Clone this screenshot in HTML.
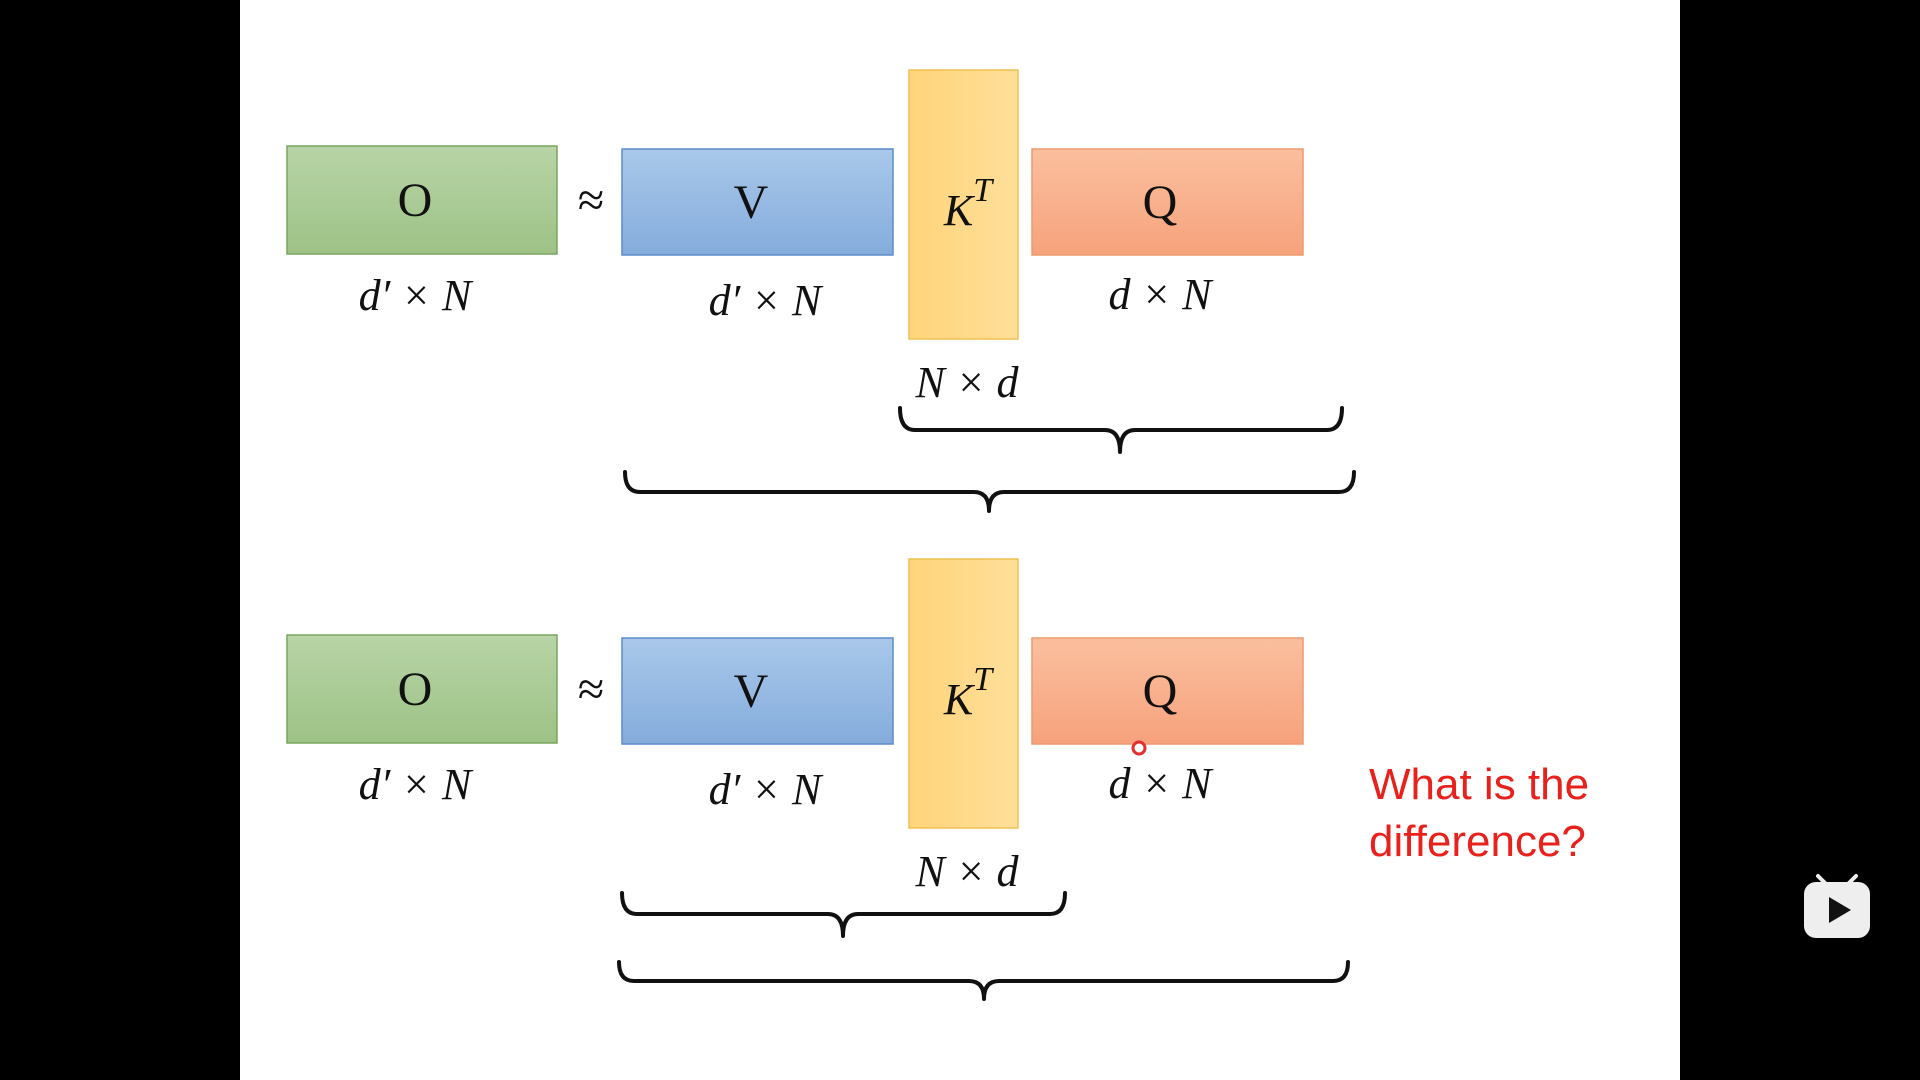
<!DOCTYPE html>
<html><head><meta charset="utf-8"><style>
html,body{margin:0;padding:0;width:1920px;height:1080px;background:#000;overflow:hidden}
svg{display:block}
.lbl{font-family:"Liberation Serif",serif;font-size:48px;fill:#111}
.it{font-family:"Liberation Serif",serif;font-style:italic;font-size:44px;fill:#111}
.br{fill:none;stroke:#111;stroke-width:4;stroke-linecap:round;stroke-linejoin:round}
</style></head><body>
<svg width="1920" height="1080" viewBox="0 0 1920 1080">
<defs>
<linearGradient id="gG" x1="0" y1="0" x2="0" y2="1"><stop offset="0" stop-color="#b7d4a6"/><stop offset="1" stop-color="#9dc286"/></linearGradient>
<linearGradient id="gB" x1="0" y1="0" x2="0" y2="1"><stop offset="0" stop-color="#a9c8ea"/><stop offset="1" stop-color="#84acdc"/></linearGradient>
<linearGradient id="gY" x1="0" y1="0" x2="1" y2="0"><stop offset="0" stop-color="#ffd47a"/><stop offset="1" stop-color="#ffdf9a"/></linearGradient>
<linearGradient id="gO" x1="0" y1="0" x2="0" y2="1"><stop offset="0" stop-color="#fbbf9e"/><stop offset="1" stop-color="#f6a27c"/></linearGradient>
</defs>
<rect x="240" y="0" width="1440" height="1080" fill="#fff"/>

<g>
<rect x="287" y="146" width="270" height="108" fill="url(#gG)" stroke="#7aa55f" stroke-width="1.5"/>
<text x="415" y="216" class="lbl" text-anchor="middle">O</text>
<text x="591" y="216" class="lbl" font-size="56" text-anchor="middle">≈</text>
<rect x="622" y="149" width="271" height="106" fill="url(#gB)" stroke="#5b8ccb" stroke-width="1.5"/>
<text x="751" y="218" class="lbl" text-anchor="middle">V</text>
<rect x="909" y="70" width="109" height="269" fill="url(#gY)" stroke="#f0c050" stroke-width="1.5"/>
<text x="968" y="225" class="it" font-size="48" text-anchor="middle">K<tspan dy="-24" font-size="34">T</tspan></text>
<rect x="1032" y="149" width="271" height="106" fill="url(#gO)" stroke="#ee9a6e" stroke-width="1.5"/>
<text x="1160" y="218" class="lbl" text-anchor="middle">Q</text>
<text x="415" y="310" class="it" text-anchor="middle">d′ × N</text>
<text x="765" y="315" class="it" text-anchor="middle">d′ × N</text>
<text x="1160" y="309" class="it" text-anchor="middle">d × N</text>
<text x="967" y="397" class="it" text-anchor="middle">N × d</text>
<path class="br" d="M900 408 Q900 430 915 430 L1105 430 Q1120 430 1120 452 Q1120 430 1135 430 L1327 430 Q1342 430 1342 408"/>
<path class="br" d="M625 472 Q625 492 640 492 L974 492 Q989 492 989 511 Q989 492 1004 492 L1339 492 Q1354 492 1354 472"/>
</g>

<g>
<rect x="287" y="635" width="270" height="108" fill="url(#gG)" stroke="#7aa55f" stroke-width="1.5"/>
<text x="415" y="705" class="lbl" text-anchor="middle">O</text>
<text x="591" y="705" class="lbl" font-size="56" text-anchor="middle">≈</text>
<rect x="622" y="638" width="271" height="106" fill="url(#gB)" stroke="#5b8ccb" stroke-width="1.5"/>
<text x="751" y="707" class="lbl" text-anchor="middle">V</text>
<rect x="909" y="559" width="109" height="269" fill="url(#gY)" stroke="#f0c050" stroke-width="1.5"/>
<text x="968" y="714" class="it" font-size="48" text-anchor="middle">K<tspan dy="-24" font-size="34">T</tspan></text>
<rect x="1032" y="638" width="271" height="106" fill="url(#gO)" stroke="#ee9a6e" stroke-width="1.5"/>
<text x="1160" y="707" class="lbl" text-anchor="middle">Q</text>
<text x="415" y="799" class="it" text-anchor="middle">d′ × N</text>
<text x="765" y="804" class="it" text-anchor="middle">d′ × N</text>
<text x="1160" y="798" class="it" text-anchor="middle">d × N</text>
<text x="967" y="886" class="it" text-anchor="middle">N × d</text>
<path class="br" d="M622 893 Q622 914 637 914 L828 914 Q843 914 843 936 Q843 914 858 914 L1050 914 Q1065 914 1065 893"/>
<path class="br" d="M619 962 Q619 981 634 981 L969 981 Q984 981 984 999 Q984 981 999 981 L1333 981 Q1348 981 1348 962"/>
<circle cx="1139" cy="748" r="6" fill="#fff" stroke="#e53030" stroke-width="3"/>
</g>

<text x="1369" y="799" font-family="Liberation Sans, sans-serif" font-size="44" fill="#e8211c">What is the</text>
<text x="1369" y="856" font-family="Liberation Sans, sans-serif" font-size="44" fill="#e8211c">difference?</text>

<g>
<line x1="1818" y1="876" x2="1826" y2="884" stroke="#eee" stroke-width="4" stroke-linecap="round"/>
<line x1="1856" y1="876" x2="1848" y2="884" stroke="#eee" stroke-width="4" stroke-linecap="round"/>
<rect x="1804" y="882" width="66" height="56" rx="12" fill="#eee"/>
<path d="M1829 897 L1851 910 L1829 923 Z" fill="#111"/>
</g>
</svg>
</body></html>
